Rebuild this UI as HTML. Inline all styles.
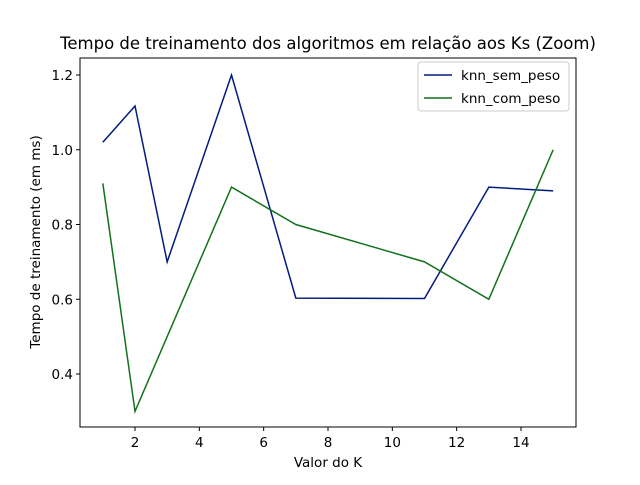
<!DOCTYPE html>
<html><head><meta charset="utf-8"><style>
body{margin:0;background:#fff;}
svg{font-family:"DejaVu Sans","Liberation Sans",sans-serif;}
</style></head><body>
<svg id="chart" width="640" height="480" xmlns="http://www.w3.org/2000/svg">
<rect width="640" height="480" fill="#fff"/>
<text x="328" y="49" font-size="16.5" text-anchor="middle">Tempo de treinamento dos algoritmos em relação aos Ks (Zoom)</text>
<g id="plot"></g>
<rect x="80" y="58" width="496" height="369" fill="none" stroke="#000" stroke-width="1"/>
<text x="328" y="467" font-size="13.5" text-anchor="middle">Valor do K</text>
<text transform="translate(40,242) rotate(-90)" font-size="13.5" text-anchor="middle">Tempo de treinamento (em ms)</text>
<g>
<rect x="418" y="62" width="151" height="49" fill="#fff" stroke="#ccc" rx="3"/>
<line x1="424" y1="75" x2="452" y2="75" stroke="#001c7f" stroke-width="1.5"/>
<text x="461" y="80" font-size="13.5">knn_sem_peso</text>
<line x1="424" y1="98" x2="452" y2="98" stroke="#12711c" stroke-width="1.5"/>
<text x="461" y="103" font-size="13.5">knn_com_peso</text>
</g>
</svg>
<script>
const kValues=[1,2,3,5,7,11,13,15];
const semPeso=[1.02,1.117,0.70,1.2,0.603,0.602,0.90,0.89];
const comPesoK=[1,2,5,7,11,13,15];
const comPeso=[0.91,0.30,0.90,0.80,0.70,0.60,1.00];
const xTicks=[2,4,6,8,10,12,14];
const yTicks=[0.4,0.6,0.8,1.0,1.2];
const xs=v=>135+(v-2)*(521-135)/12;
const ys=v=>75+(1.2-v)*(374-75)/0.8;
const NS="http://www.w3.org/2000/svg";
const g=document.getElementById('plot');
function mk(t,a){const e=document.createElementNS(NS,t);for(const k in a)e.setAttribute(k,a[k]);g.appendChild(e);return e;}
xTicks.forEach(t=>{
  const l=mk('line',{x1:xs(t),x2:xs(t),y1:427,y2:431,stroke:'#000'});
  
  
  const tx=mk('text',{x:xs(t),y:447,'font-size':13.5,'text-anchor':'middle'});
  tx.textContent=t;
  
  
});
yTicks.forEach(t=>{
  const l=mk('line',{x1:76,x2:80,y1:ys(t),y2:ys(t),stroke:'#000'});
  
  
  const tx=mk('text',{x:73,y:ys(t)+5,'font-size':13.5,'text-anchor':'end'});
  tx.textContent=t.toFixed(1);
  
  
});
const p1=mk('polyline',{points:kValues.map((k,i)=>xs(k)+','+ys(semPeso[i])).join(' '),fill:'none',stroke:'#001c7f','stroke-width':1.5});


const p2=mk('polyline',{points:comPesoK.map((k,i)=>xs(k)+','+ys(comPeso[i])).join(' '),fill:'none',stroke:'#12711c','stroke-width':1.5});


</script>
</body></html>
